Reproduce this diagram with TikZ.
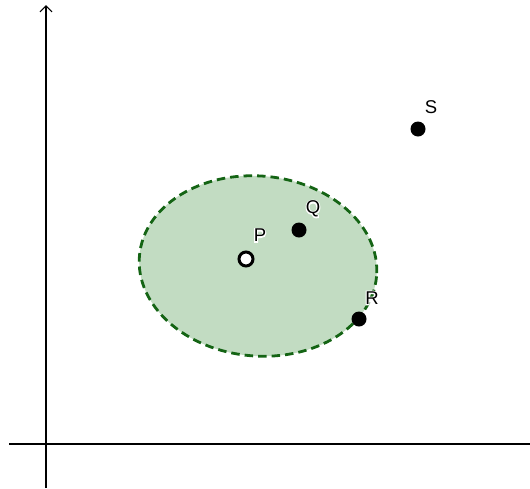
\documentclass[tikz,border=0pt]{standalone}
\usepackage{fontspec}
\setmainfont{Liberation Sans}
\newfontfamily\halofont[FakeBold=12]{Liberation Sans}
\usetikzlibrary{arrows.meta}
\definecolor{regfill}{HTML}{C2DCC2}
\definecolor{regline}{HTML}{146414}
\tikzset{
  axis/.style={line width=1.2pt, black},
  dot/.style={circle, fill=black, inner sep=0pt, minimum size=15pt},
  odot/.style={circle, fill=white, draw=black, line width=3pt, inner sep=0pt, minimum size=14pt},
  lbl/.style={font=\fontsize{18.5}{18.5}\selectfont, inner sep=0pt},
  halo/.style={font=\halofont\fontsize{18.5}{18.5}\selectfont, inner sep=0pt, text=white}
}
\begin{document}
\begin{tikzpicture}[x=1pt,y=-1pt]
\useasboundingbox (0,0) rectangle (530,488);
\coordinate (xs) at (9,444);
\coordinate (xe) at (530,444);
\coordinate (ys) at (46,488);
\coordinate (ye) at (46,5);
\draw[axis] (xs) -- (xe);
\draw[axis, -{Straight Barb[length=6pt,width=12pt]}] (ys) -- (ye);
\draw[regline, fill=regfill, line width=2.8pt, dash pattern=on 8.5pt off 5pt, rotate around={-5:(258,266)}] (258,266) ellipse [x radius=119, y radius=90];
\node[odot] (P) at (246,259) {};
\node[dot] (Q) at (299,230) {};
\node[dot] (R) at (359,319) {};
\node[dot] (S) at (418,129) {};
\node[halo] (hP) at (260,235.5) {P};
\node[halo] (hQ) at (313,209) {Q};
\node[halo] (hR) at (372,298) {R};
\node[lbl] (lP) at (260,235.5) {P};
\node[lbl] (lQ) at (313,209) {Q};
\node[lbl] (lR) at (372,298) {R};
\node[lbl] (lS) at (431,107) {S};
\end{tikzpicture}
\end{document}
